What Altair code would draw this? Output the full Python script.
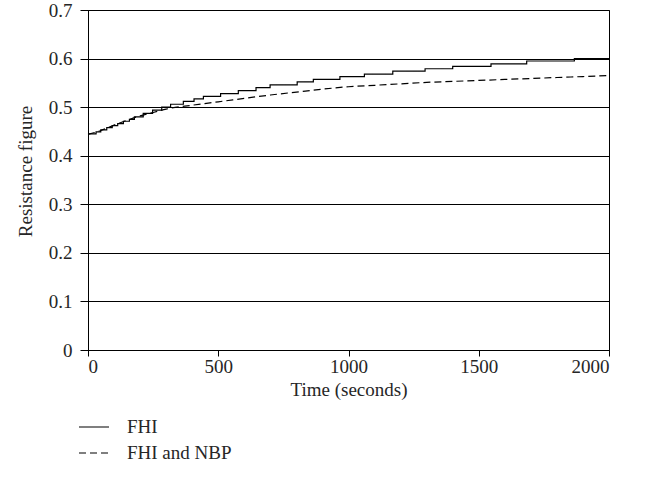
import altair as alt
import pandas as pd

# FHI (step series): time of each step (s) and level after the step
fhi_t = [0, 31, 49, 72, 93, 114, 136, 159, 178, 212, 248, 283, 317, 366, 407, 443,
         509, 577, 645, 699, 803, 865, 967, 1061, 1170, 1294, 1400, 1547, 1684, 1867, 2000]
fhi_v = [0.445, 0.449, 0.453, 0.458, 0.462, 0.466, 0.471, 0.475, 0.480, 0.487, 0.494,
         0.500, 0.506, 0.512, 0.517, 0.522, 0.528, 0.534, 0.540, 0.546, 0.552, 0.557,
         0.563, 0.568, 0.574, 0.579, 0.584, 0.589, 0.595, 0.600, 0.600]

# FHI and NBP (smooth series)
nbp_t = [0, 50, 100, 150, 200, 250, 300, 400, 500, 600, 700, 800, 900, 1000,
         1100, 1200, 1300, 1400, 1500, 1600, 1700, 1800, 1900, 2000]
nbp_v = [0.444, 0.452, 0.463, 0.473, 0.482, 0.489, 0.496, 0.504, 0.511, 0.518, 0.525,
         0.531, 0.537, 0.542, 0.545, 0.548, 0.551, 0.553, 0.555, 0.557, 0.559, 0.561,
         0.563, 0.565]

series_names = ["FHI", "FHI and NBP"]
y_ticks = [0, 0.1, 0.2, 0.3, 0.4, 0.5, 0.6, 0.7]
x_ticks = [0, 500, 1000, 1500, 2000]

df_fhi = pd.DataFrame({"t": fhi_t, "v": fhi_v, "s": series_names[0]})
df_nbp = pd.DataFrame({"t": nbp_t, "v": nbp_v, "s": series_names[1]})

FONT = "Liberation Serif"
TXT = "#262626"
FS = 19

x_enc = alt.X("t:Q", scale=alt.Scale(domain=[0, 2000], nice=False),
              axis=alt.Axis(values=x_ticks, title="Time (seconds)", format="d",
                            grid=False, tickSize=6, labelPadding=1, titlePadding=4))
y_enc = alt.Y("v:Q", scale=alt.Scale(domain=[0, 0.7], nice=False),
              axis=alt.Axis(values=y_ticks, title="Resistance figure",
                            labelExpr="datum.value == 0 ? '0' : format(datum.value, '.1f')",
                            grid=True, tickSize=8, labelPadding=8,
                            titleX=-53, titleY=161))
dash_enc = alt.StrokeDash("s:N",
                          scale=alt.Scale(domain=series_names, range=[[1, 0], [7, 4]]),
                          legend=alt.Legend(title=None, orient="none", legendX=-10, legendY=401,
                                            symbolType="stroke", symbolSize=900,
                                            symbolStrokeColor="black", symbolStrokeWidth=1.2,
                                            labelFont=FONT, labelFontSize=FS, labelColor=TXT,
                                            rowPadding=-6, labelOffset=17))

solid = alt.Chart(df_fhi).mark_line(interpolate="step-after", color="black", strokeWidth=1.2).encode(
    x=x_enc, y=y_enc, strokeDash=dash_enc)
dashed = alt.Chart(df_nbp).mark_line(interpolate="monotone", color="black", strokeWidth=1.2).encode(
    x=x_enc, y=y_enc, strokeDash=dash_enc)

chart = alt.layer(solid, dashed).properties(
    width=521, height=340,
    autosize=alt.AutoSizeParams(type="none"),
    padding={"left": 88, "top": 10, "right": 36, "bottom": 144},
    background="white",
).configure_view(stroke="black", strokeWidth=1).configure_axis(
    domainColor="black", domainWidth=1, tickColor="black", tickWidth=1,
    gridColor="black", gridWidth=1, gridOpacity=1,
    labelFont=FONT, labelFontSize=FS, labelColor=TXT,
    titleFont=FONT, titleFontSize=FS, titleColor=TXT, titleFontWeight="normal",
)

chart.save("out.html", embed_options={"renderer": "svg", "actions": False})
